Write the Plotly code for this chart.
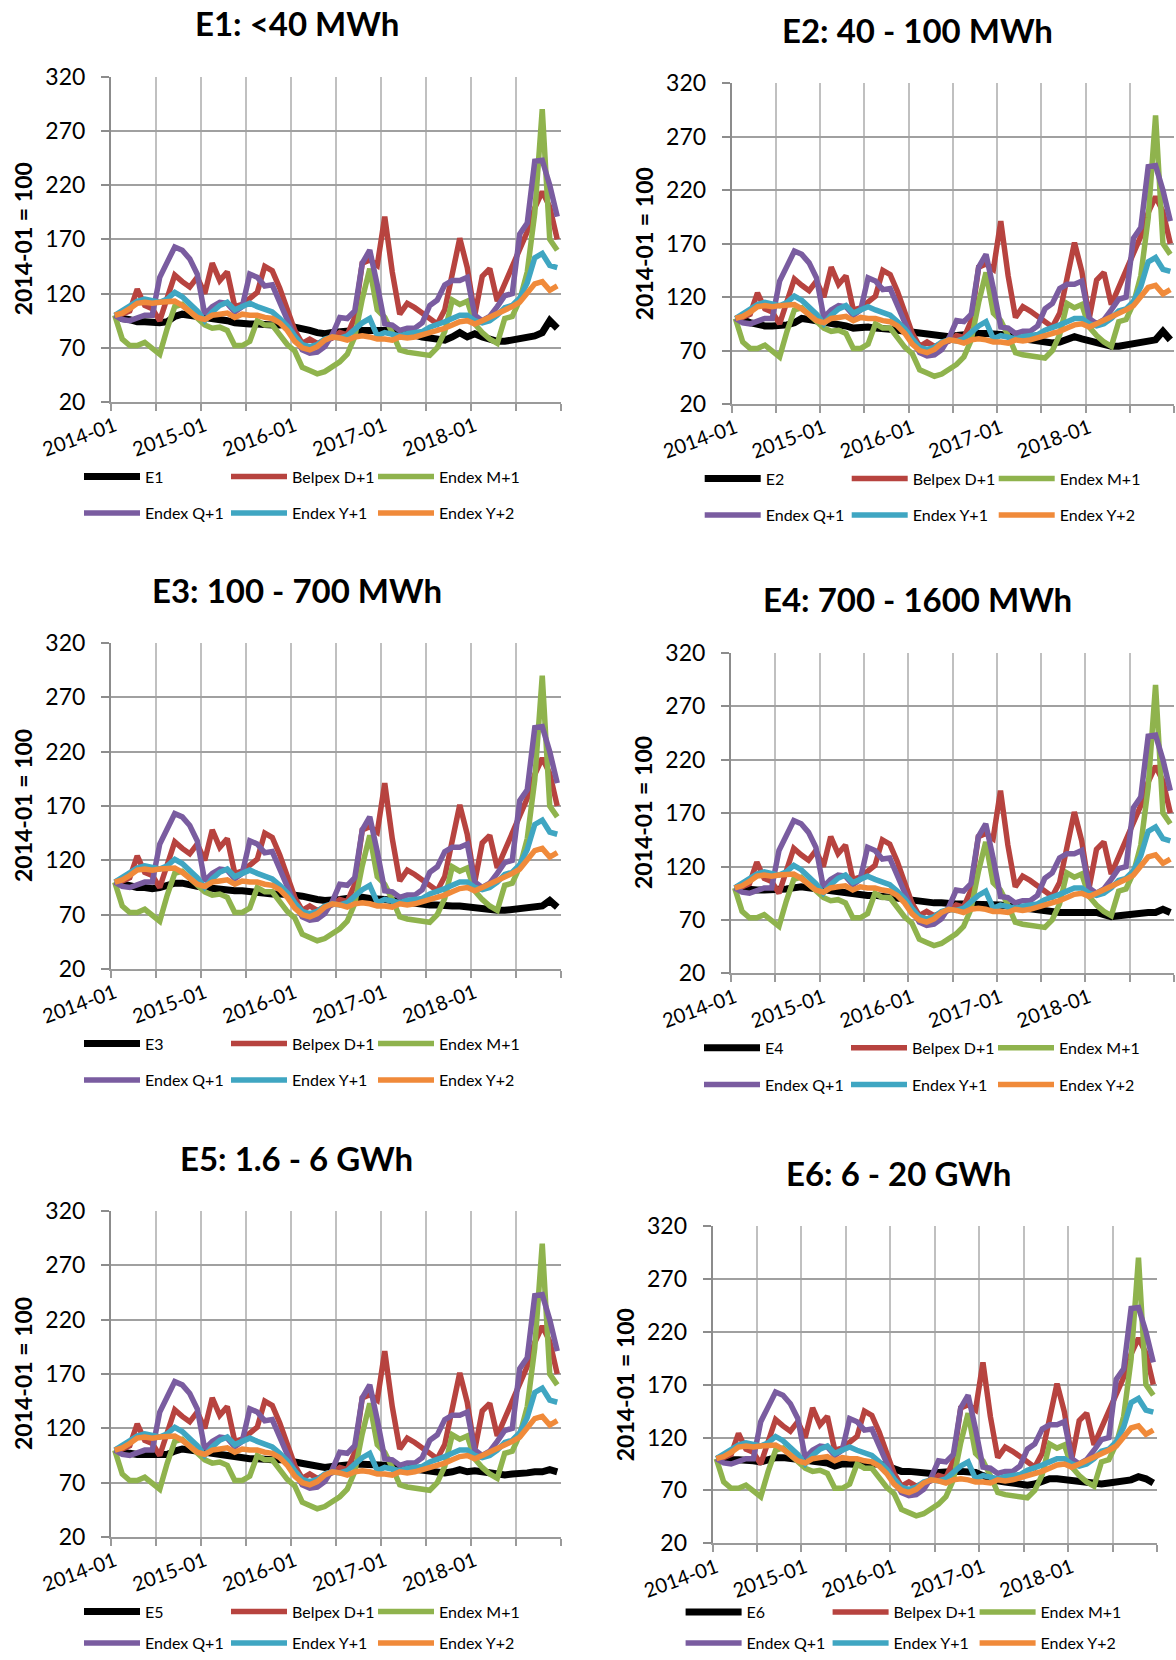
import plotly.graph_objects as go

W, H = 1176, 1660
FONT = "Lato"

# ---------------- data ----------------
months = [f"{y}-{m:02d}" for y in range(2014, 2019) for m in range(1, 13)]
tick_labels = ["2014-01", "2015-01", "2016-01", "2017-01", "2018-01"]

belpex_d1 = [100, 101, 104, 124, 109, 106, 95, 115, 137, 131, 126, 135,
             120, 148, 132, 140, 108, 110, 116, 121, 145, 141, 125, 105,
             86, 74, 78, 74, 77, 79, 84, 82, 98, 148, 151, 146,
             191, 140, 101, 111, 107, 102, 96, 92, 105, 140, 171, 144,
             100, 136, 143, 113, 129, 145, 162, 177, 199, 214, 200, 170]

endex_m1 = [100, 78, 72, 72, 75, 69, 64, 88, 108, 110, 104, 98,
            91, 88, 89, 86, 72, 72, 76, 95, 91, 91, 82, 73,
            67, 52, 49, 46, 48, 52, 57, 64, 80, 115, 143, 105,
            98, 84, 68, 66, 65, 64, 63, 70, 85, 114, 110, 113,
            92, 84, 78, 74, 97, 99, 114, 140, 194, 290, 170, 160]

endex_q1 = [100, 96, 95, 98, 100, 100, 135, 149, 163, 160, 152, 138,
            101, 108, 112, 111, 103, 108, 138, 135, 127, 128, 112, 94,
            80, 68, 65, 66, 71, 82, 98, 97, 104, 148, 160, 128,
            92, 91, 86, 88, 88, 93, 109, 114, 128, 132, 132, 135,
            100, 95, 99, 108, 118, 120, 175, 185, 242, 243, 220, 191]

endex_y1 = [100, 104, 108, 113, 115, 114, 112, 115, 121, 117, 111, 104,
            95, 103, 109, 112, 105, 108, 111, 108, 106, 103, 97, 90,
            81, 73, 71, 73, 78, 80, 79, 81, 87, 93, 97, 81,
            84, 83, 81, 83, 84, 85, 89, 91, 94, 97, 100, 100,
            95, 93, 95, 100, 107, 109, 116, 130, 153, 157, 146, 144]

endex_y2 = [100, 102, 106, 111, 112, 111, 112, 113, 113, 109, 104, 98,
            96, 100, 101, 102, 98, 101, 100, 100, 98, 97, 93, 86,
            76, 70, 68, 71, 77, 80, 79, 77, 80, 81, 80, 78,
            78, 77, 80, 79, 80, 82, 83, 86, 88, 91, 94, 95,
            92, 95, 98, 102, 105, 108, 112, 121, 129, 131, 123, 127]

e1 = [100, 97, 96, 94, 94, 93, 93, 94, 99, 101, 100, 99,
      98, 97, 97, 95, 93, 92, 92, 92, 91, 91, 91, 92,
      89, 88, 86, 84, 83, 84, 85, 85, 86, 86, 86, 86,
      87, 86, 85, 83, 82, 80, 79, 78, 77, 80, 84, 80,
      83, 80, 78, 76, 76, 77, 78, 79, 81, 84, 95, 88]

e2 = [100, 99, 96, 94, 93, 93, 93, 94, 96, 100, 99, 98,
      97, 96, 95, 93, 91, 92, 92, 91, 91, 90, 89, 88,
      88, 87, 85, 84, 83, 83, 84, 85, 86, 86, 86, 86,
      85, 84, 82, 81, 80, 79, 77, 77, 78, 81, 83, 81,
      79, 78, 76, 74, 74, 75, 76, 77, 78, 80, 88, 80]

e3 = [100, 98, 96, 95, 95, 94, 95, 97, 99, 99, 97, 96,
      95, 94, 93, 93, 92, 92, 91, 90, 89, 89, 89, 89,
      88, 87, 85, 84, 83, 83, 84, 85, 86, 86, 85, 85,
      84, 83, 82, 81, 80, 80, 79, 79, 78, 78, 78, 77,
      76, 75, 74, 74, 74, 75, 75, 76, 77, 78, 83, 77]

e4 = [100, 99, 98, 98, 98, 98, 98, 99, 100, 101, 100, 99,
      99, 98, 97, 96, 95, 94, 93, 93, 92, 91, 90, 89,
      88, 88, 87, 86, 86, 85, 85, 85, 85, 85, 85, 84,
      84, 83, 82, 81, 80, 79, 78, 78, 77, 77, 77, 78,
      78, 77, 75, 73, 74, 75, 76, 76, 77, 77, 80, 77]

e5 = [100, 98, 97, 96, 96, 95, 95, 96, 99, 101, 100, 99,
      98, 97, 96, 95, 93, 93, 92, 92, 91, 91, 91, 91,
      89, 88, 87, 85, 84, 85, 86, 86, 87, 87, 87, 86,
      86, 85, 84, 83, 82, 81, 80, 80, 79, 80, 82, 80,
      81, 80, 79, 77, 77, 78, 78, 79, 80, 80, 82, 80]

e6 = [100, 99, 99, 99, 99, 98, 97, 99, 101, 101, 100, 99,
      98, 97, 97, 96, 93, 95, 95, 94, 94, 95, 95, 93,
      90, 88, 88, 87, 86, 86, 87, 88, 88, 88, 87, 87,
      84, 81, 79, 78, 77, 77, 75, 76, 78, 81, 81, 80,
      79, 78, 78, 76, 76, 77, 78, 79, 80, 83, 81, 77]

segment_series = {"E1": e1, "E2": e2, "E3": e3, "E4": e4, "E5": e5, "E6": e6}
market_names = ["Belpex D+1", "Endex M+1", "Endex Q+1", "Endex Y+1", "Endex Y+2"]
market_values = [belpex_d1, endex_m1, endex_q1, endex_y1, endex_y2]

# ---------------- style ----------------
COLORS = {"E": "#000000", "Belpex D+1": "#B7433F", "Endex M+1": "#8FB34D",
          "Endex Q+1": "#7A5CA0", "Endex Y+1": "#3FA6C2", "Endex Y+2": "#F08A3A"}

panels = [
    dict(name="E1", title="E1: <40 MWh", l=111, r=561, t=76.7, b=402),
    dict(name="E2", title="E2: 40 - 100 MWh", l=731.7, r=1174, t=83.3, b=404),
    dict(name="E3", title="E3: 100 - 700 MWh", l=111, r=561, t=643, b=969),
    dict(name="E4", title="E4: 700 - 1600 MWh", l=731, r=1174, t=652.8, b=973.4),
    dict(name="E5", title="E5: 1.6 - 6 GWh", l=111, r=561, t=1211, b=1537),
    dict(name="E6", title="E6: 6 - 20 GWh", l=712.6, r=1157, t=1226, b=1543.3),
]

xpos = [i + 0.5 for i in range(len(months))]
tick_pos = [xpos[months.index(t)] for t in tick_labels]

fig = go.Figure()
layout = dict(width=W, height=H, margin=dict(l=0, r=0, t=0, b=0, autoexpand=False),
              paper_bgcolor="white", plot_bgcolor="white",
              font=dict(family=FONT, color="black"), showlegend=True)
annotations = []

for p, pan in enumerate(panels):
    k = "" if p == 0 else str(p + 1)
    xa, ya = "x" + k, "y" + k
    leg1 = "legend" if p == 0 else f"legend{2 * p + 1}"
    leg2 = f"legend{2 * p + 2}"

    names = [pan["name"]] + market_names
    values = [segment_series[pan["name"]]] + market_values
    for j, (nm, vals) in enumerate(zip(names, values)):
        col = COLORS["E"] if j == 0 else COLORS[nm]
        fig.add_trace(go.Scatter(
            x=xpos, y=vals, mode="lines", name=nm, text=months,
            line=dict(color=col, width=7 if j == 0 else 5.5),
            xaxis=xa, yaxis=ya, legend=leg1 if j < 3 else leg2,
            hovertemplate="%{text}: %{y}<extra>" + nm + "</extra>"))

    layout["xaxis" + k] = dict(
        domain=[pan["l"] / W, pan["r"] / W], anchor=ya, range=[0, 60],
        automargin=False,
        tickmode="array", tickvals=tick_pos, ticktext=tick_labels,
        tickangle=-20, ticks="", showgrid=False, zeroline=False,
        ticklabelstandoff=3,
        tickfont=dict(family=FONT, size=20, color="black"),
        showline=True, linecolor="#9A9A9A", linewidth=2,
        minor=dict(tickmode="linear", tick0=0, dtick=6, showgrid=True,
                   gridcolor="#C0C0C0", gridwidth=2, ticks="outside",
                   ticklen=7, tickwidth=2, tickcolor="#9A9A9A"))
    layout["yaxis" + k] = dict(
        domain=[1 - pan["b"] / H, 1 - pan["t"] / H], anchor=xa,
        range=[20, 320], tickmode="linear", tick0=20, dtick=50,
        automargin=False,
        showgrid=True, gridcolor="#A0A0A0", gridwidth=2, zeroline=False,
        ticks="outside", ticklen=8, tickwidth=2, tickcolor="#8C8C8C",
        showline=True, linecolor="#8C8C8C", linewidth=2,
        ticklabelstandoff=11,
        tickfont=dict(family=FONT, size=23, color="black"))

    # chart title and y-axis title
    annotations.append(dict(
        text="<b>" + pan["title"] + "</b>", xref="paper", yref="paper",
        x=(pan["l"] + 186) / W, y=1 - (pan["t"] - 53.5) / H,
        xanchor="center", yanchor="middle", showarrow=False,
        font=dict(family=FONT, size=33, color="black")))
    annotations.append(dict(
        text="<b>2014-01 = 100</b>", xref="paper", yref="paper",
        x=(pan["l"] - 88) / W, y=1 - (pan["t"] + pan["b"]) / 2 / H,
        xanchor="center", yanchor="middle", textangle=-90, showarrow=False,
        font=dict(family=FONT, size=23, color="black")))

    # two legend rows under each panel (kept inside the page)
    row1 = min(pan["b"] + 74.5, 1612)
    row2 = min(pan["b"] + 111.2, 1643)
    for lg, yc in [(leg1, row1), (leg2, row2)]:
        layout[lg] = dict(
            orientation="h", x=(pan["l"] - 32) / W, y=1 - yc / H,
            xanchor="left", yanchor="middle", bgcolor="rgba(0,0,0,0)",
            font=dict(family=FONT, size=16, color="black"),
            itemwidth=56, entrywidthmode="pixels", entrywidth=76,
            traceorder="normal", itemclick=False, itemdoubleclick=False)

layout["annotations"] = annotations
fig.update_layout(**layout)
fig.write_html("out.html", config={"displayModeBar": False},
               post_script="document.body.style.margin='0px';")
